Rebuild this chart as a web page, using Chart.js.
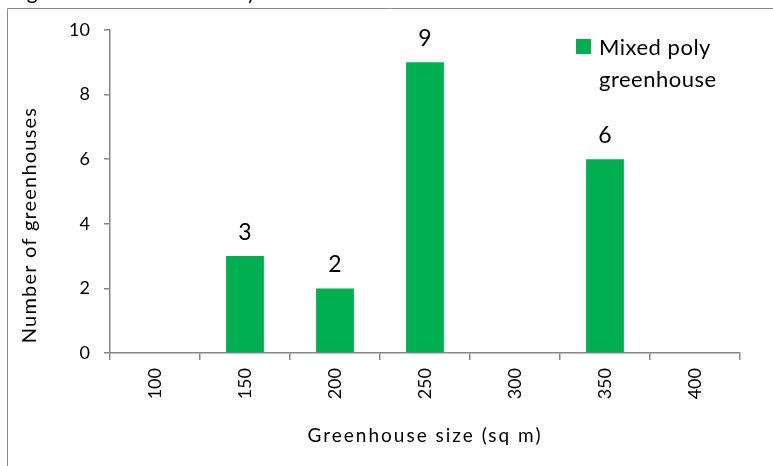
<!DOCTYPE html>
<html>
<head>
<meta charset="utf-8">
<script src="https://cdn.jsdelivr.net/npm/chart.js@4"></script>
<style>
  html, body { margin: 0; padding: 0; background: #fff; }
  #wrap { width: 773px; height: 466px; }
</style>
</head>
<body>
<div id="wrap"><canvas id="c" width="773" height="466"></canvas></div>
<script>
const categories = ['100', '150', '200', '250', '300', '350', '400'];
const mixedPoly = [0, 3, 2, 9, 0, 6, 0];
const seriesName = ['Mixed poly', 'greenhouse'];
const yTicks = [0, 2, 4, 6, 8, 10];
const xTitle = 'Greenhouse size (sq m)';
const yTitle = 'Number of greenhouses';
const figTitle = 'Figure 10: Greenhouses by size';

const GREEN = '#00B050';
const GRAY = '#868686';
const FONT = 'Lato';

const framePlugin = {
  id: 'frame',
  beforeDraw(chart) {
    const ctx = chart.ctx;
    ctx.save();
    ctx.fillStyle = '#fff';
    ctx.fillRect(0, 0, chart.width, chart.height);
    // cut-off caption above the frame (only its lowest sliver is visible)
    ctx.fillStyle = '#000';
    ctx.font = '21px ' + FONT;
    ctx.textBaseline = 'alphabetic';
    ctx.textAlign = 'left';
    ctx.fillText(figTitle, 10, -1);
    // frame
    ctx.strokeStyle = '#8a8a8a';
    ctx.lineWidth = 1;
    ctx.beginPath();
    ctx.moveTo(7.5, chart.height);
    ctx.lineTo(7.5, 8.5);
    ctx.lineTo(chart.width, 8.5);
    ctx.stroke();
    ctx.restore();
  },
  afterDatasetsDraw(chart) {
    const ctx = chart.ctx;
    const meta = chart.getDatasetMeta(0);
    ctx.save();
    ctx.fillStyle = '#000';
    ctx.font = '23px ' + FONT;
    ctx.textAlign = 'center';
    ctx.textBaseline = 'alphabetic';
    meta.data.forEach((bar, i) => {
      const v = chart.data.datasets[0].data[i];
      if (v > 0) ctx.fillText(String(v), bar.x, bar.y - 16);
    });
    ctx.restore();
  },
  afterDraw(chart) {
    const ctx = chart.ctx;
    const area = chart.chartArea;
    ctx.save();
    // legend
    ctx.fillStyle = chart.data.datasets[0].backgroundColor;
    ctx.fillRect(576, 39, 15, 15);
    ctx.fillStyle = '#000';
    ctx.font = '22px ' + FONT;
    ctx.letterSpacing = '0.5px';
    ctx.textAlign = 'left';
    ctx.textBaseline = 'alphabetic';
    ctx.fillText(seriesName[0], 599, 55);
    ctx.fillText(seriesName[1], 599, 87);
    // x title
    ctx.font = '19px ' + FONT;
    ctx.letterSpacing = '2px';
    ctx.textAlign = 'left';
    ctx.textBaseline = 'middle';
    const xw = ctx.measureText(xTitle).width;
    ctx.fillText(xTitle, (area.left + area.right) / 2 - xw / 2, 436);
    // y title
    ctx.translate(30, 225);
    ctx.rotate(-Math.PI / 2);
    ctx.font = '20px ' + FONT;
    ctx.letterSpacing = '1.2px';
    const yw = ctx.measureText(yTitle).width;
    ctx.fillText(yTitle, -yw / 2, 0);
    ctx.restore();
  }
};

new Chart(document.getElementById('c'), {
  type: 'bar',
  data: {
    labels: categories,
    datasets: [{
      label: seriesName.join(' '),
      data: mixedPoly,
      backgroundColor: GREEN,
      borderWidth: 0,
      categoryPercentage: 1.0,
      barPercentage: 0.42
    }]
  },
  options: {
    responsive: false,
    devicePixelRatio: 1,
    animation: false,
    layout: { padding: { left: 0, right: 33, top: 30, bottom: 0 } },
    plugins: {
      legend: { display: false },
      tooltip: { enabled: false },
      title: { display: false }
    },
    scales: {
      x: {
        offset: true,
        grid: {
          offset: true,
          drawOnChartArea: false,
          drawTicks: true,
          tickLength: 7,
          color: GRAY,
          lineWidth: 1.5
        },
        border: { display: true, color: GRAY, width: 1.5 },
        ticks: {
          color: '#000',
          font: { family: FONT, size: 18 },
          minRotation: 90,
          maxRotation: 90,
          padding: 8,
          autoSkip: false
        },
        afterFit(scale) { scale.height = 466 - 353; }
      },
      y: {
        min: 0,
        max: 10,
        afterBuildTicks(scale) { scale.ticks = yTicks.map(v => ({ value: v })); },
        grid: {
          drawOnChartArea: false,
          drawTicks: true,
          tickLength: 6,
          color: GRAY,
          lineWidth: 1.5
        },
        border: { display: true, color: GRAY, width: 1.5 },
        ticks: {
          color: '#000',
          font: { family: FONT, size: 18 },
          padding: 14
        },
        afterFit(scale) { scale.width = 110; }
      }
    }
  },
  plugins: [framePlugin]
});
</script>
</body>
</html>
